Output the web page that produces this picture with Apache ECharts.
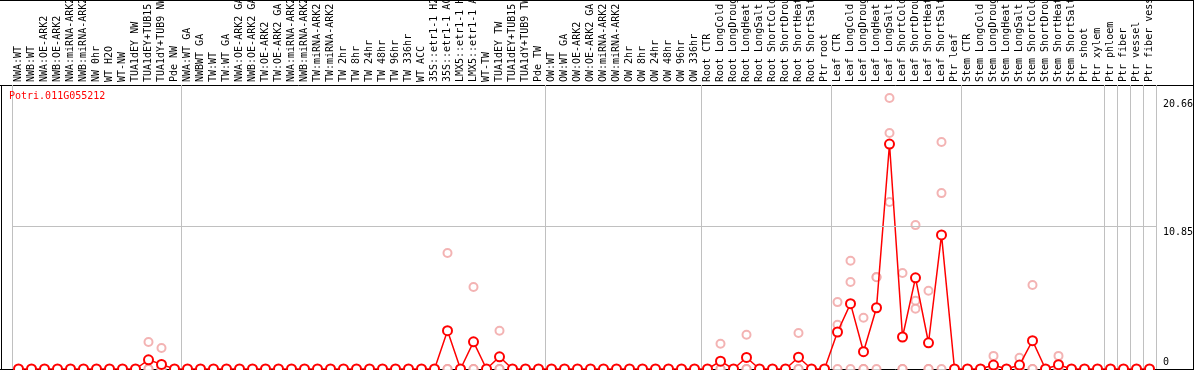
<!DOCTYPE html>
<html><head><meta charset="utf-8">
<script src="https://cdn.jsdelivr.net/npm/echarts@6/dist/echarts.min.js"></script>
<style>html,body{margin:0;padding:0;background:#fff}#c{width:1194px;height:370px}</style>
</head><body><div id="c"></div>
<script>
const geneId = 'Potri.011G055212';
const categories = [
  'NWA:WT','NWB:WT','NWA:OE-ARK2','NWB:OE-ARK2','NWA:miRNA-ARK2','NWB:miRNA-ARK2','NW 0hr','WT H2O','WT-NW','TUA1dEY NW','TUA1dEY+TUB15 NW','TUA1dY+TUB9 NW','Pde NW',
  'NWA:WT GA','NWBWT GA','TW:WT','TW:WT GA','NWA:OE-ARK2 GA','NWB:OE-ARK2 GA','TW:OE-ARK2','TW:OE-ARK2 GA','NWA:miRNA-ARK2 GA','NWB:miRNA-ARK2 GA','TW:miRNA-ARK2','TW:miRNA-ARK2 GA','TW 2hr','TW 8hr','TW 24hr','TW 48hr','TW 96hr','TW 336hr','WT ACC','35S::etr1-1 H2O','35S::etr1-1 ACC','LMX5::etr1-1 H2O','LMX5::etr1-1 ACC','WT-TW','TUA1dEY TW','TUA1dEY+TUB15 TW','TUA1dY+TUB9 TW','Pde TW',
  'OW:WT','OW:WT GA','OW:OE-ARK2','OW:OE-ARK2 GA','OW:miRNA-ARK2','OW:miRNA-ARK2 GA','OW 2hr','OW 8hr','OW 24hr','OW 48hr','OW 96hr','OW 336hr',
  'Root CTR','Root LongCold','Root LongDrought','Root LongHeat','Root LongSalt','Root ShortCold','Root ShortDrought','Root ShortHeat','Root ShortSalt','Ptr root',
  'Leaf CTR','Leaf LongCold','Leaf LongDrought','Leaf LongHeat','Leaf LongSalt','Leaf ShortCold','Leaf ShortDrought','Leaf ShortHeat','Leaf ShortSalt','Ptr leaf',
  'Stem CTR','Stem LongCold','Stem LongDrought','Stem LongHeat','Stem LongSalt','Stem ShortCold','Stem ShortDrought','Stem ShortHeat','Stem ShortSalt','Ptr shoot','Ptr xylem',
  'Ptr phloem','Ptr fiber','Ptr vessel','Ptr fiber vessel'
];
// first category of each separated group
const groupStarts = ['NWA:WT','NWA:WT GA','OW:WT','Root CTR','Leaf CTR','Stem CTR','Ptr phloem','Ptr fiber','Ptr vessel','Ptr fiber vessel'];

const meanValues = [
  0,0,0,0,0,0,0,0,0,0,0.70,0.35,0,
  0,0,0,0,0,0,0,0,0,0,0,0,0,0,0,0,0,0,0,0,2.92,0,2.07,0,0.93,0,0,0,
  0,0,0,0,0,0,0,0,0,0,0,0,
  0,0.60,0,0.88,0,0,0,0.90,0,0,
  2.82,4.98,1.32,4.67,17.15,2.44,6.95,2.00,10.22,0,
  0,0,0.30,0,0.30,2.16,0,0.33,0,0,0,
  0,0,0,0
];
const replicate1 = [
  0,0,0,0,0,0,0,0,0,0,2.06,1.60,0,
  0,0,0,0,0,0,0,0,0,0,0,0,0,0,0,0,0,0,0,0,8.84,0,6.25,0,2.92,0,0,0,
  0,0,0,0,0,0,0,0,0,0,0,0,
  0,1.93,0,2.61,0,0,0,2.74,0,0,
  5.10,8.25,3.91,7.01,20.66,7.32,10.97,5.97,17.30,0,
  0,0,1.00,0,0.86,6.40,0,1.00,0,0,0,
  0,0,0,0
];
const replicate2 = [
  0,0,0,0,0,0,0,0,0,0,0,0,0,
  0,0,0,0,0,0,0,0,0,0,0,0,0,0,0,0,0,0,0,0,0,0,0,0,0,0,0,0,
  0,0,0,0,0,0,0,0,0,0,0,0,
  0,0,0,0,0,0,0,0,0,0,
  3.38,6.63,0,7.00,17.99,0,5.21,0,13.41,0,
  0,0,0,0,0,0,0,0,0,0,0,
  0,0,0,0
];
const replicate3 = [
  0,0,0,0,0,0,0,0,0,0,0,0,0,
  0,0,0,0,0,0,0,0,0,0,0,0,0,0,0,0,0,0,0,0,0,0,0,0,0,0,0,0,
  0,0,0,0,0,0,0,0,0,0,0,0,
  0,0,0,0,0,0,0,0,0,0,
  0,0,0,0,12.73,0,4.60,0,0,0,
  0,0,0,0,0,0,0,0,0,0,0,
  0,0,0,0
];
const yTickValues = [0, 10.85, 20.66];
const yMax = 21.65;

const isGroupStart = (idx, name) => groupStarts.indexOf(categories[idx]) >= 0;
const mono = 'DejaVu Sans Mono';
const GREY = '#c0c0c0';
const LIGHT = '#f0a0a0';

function repSeries(arr) {
  return {
    type: 'scatter', data: arr, symbol: 'emptyCircle', symbolSize: 8,
    itemStyle: { color: LIGHT, borderWidth: 1.5 }, silent: true, z: 2
  };
}

const chart = echarts.init(document.getElementById('c'), null, { renderer: 'canvas' });
chart.setOption({
  animation: false,
  backgroundColor: '#fff',
  title: {
    text: geneId, left: 9, top: 91, padding: 0,
    textStyle: { color: '#ff0000', fontFamily: mono, fontSize: 10, fontWeight: 'normal' }
  },
  grid: { left: 12, width: 1144, top: 85, height: 284, containLabel: false, outerBoundsMode: 'none' },
  xAxis: {
    type: 'category', data: categories, position: 'top', boundaryGap: true,
    axisLine: { show: false },
    axisTick: { show: true, interval: isGroupStart, length: 85, inside: false, lineStyle: { color: GREY, width: 1 } },
    axisLabel: { interval: 0, rotate: 90, margin: 3, fontFamily: mono, fontSize: 10, color: '#000' },
    splitLine: { show: true, interval: isGroupStart, lineStyle: { color: GREY, width: 1 } }
  },
  yAxis: {
    type: 'value', position: 'right', min: 0, max: yMax,
    axisLine: { show: false }, axisTick: { show: false }, splitLine: { show: false },
    axisLabel: {
      customValues: yTickValues, margin: 7, fontFamily: mono, fontSize: 10, color: '#000',
      verticalAlign: 'middle',
      formatter: v => (v === 0 ? '{z|0}' : '{n|' + v + '}'),
      rich: {
        n: { fontFamily: mono, fontSize: 10, color: '#000', padding: [12, 0, 0, 0] },
        z: { fontFamily: mono, fontSize: 10, color: '#000', padding: [0, 0, 14, 0] }
      }
    }
  },
  graphic: [
    { type: 'line', shape: { x1: 0, y1: 0.5, x2: 1194, y2: 0.5 }, style: { stroke: '#000', lineWidth: 1 }, silent: true },
    { type: 'line', shape: { x1: 0, y1: 85.5, x2: 1194, y2: 85.5 }, style: { stroke: '#000', lineWidth: 1 }, silent: true },
    { type: 'line', shape: { x1: 0, y1: 369.5, x2: 1194, y2: 369.5 }, style: { stroke: '#000', lineWidth: 1 }, silent: true },
    { type: 'line', shape: { x1: 1.5, y1: 85, x2: 1.5, y2: 370 }, style: { stroke: '#000', lineWidth: 1 }, silent: true },
    { type: 'line', shape: { x1: 1193.5, y1: 0, x2: 1193.5, y2: 370 }, style: { stroke: '#000', lineWidth: 1 }, silent: true }
  ],
  series: [
    repSeries(replicate1), repSeries(replicate2), repSeries(replicate3),
    {
      type: 'line', data: meanValues, symbol: 'emptyCircle', symbolSize: 9, z: 3,
      lineStyle: { color: '#ff0000', width: 1.5 },
      itemStyle: { color: '#ff0000', borderWidth: 1.5 },
      markLine: {
        silent: true, symbol: 'none', label: { show: false },
        lineStyle: { color: GREY, type: 'solid', width: 1 },
        data: [{ yAxis: yTickValues[1] }]
      }
    }
  ]
});
</script>
</body></html>
